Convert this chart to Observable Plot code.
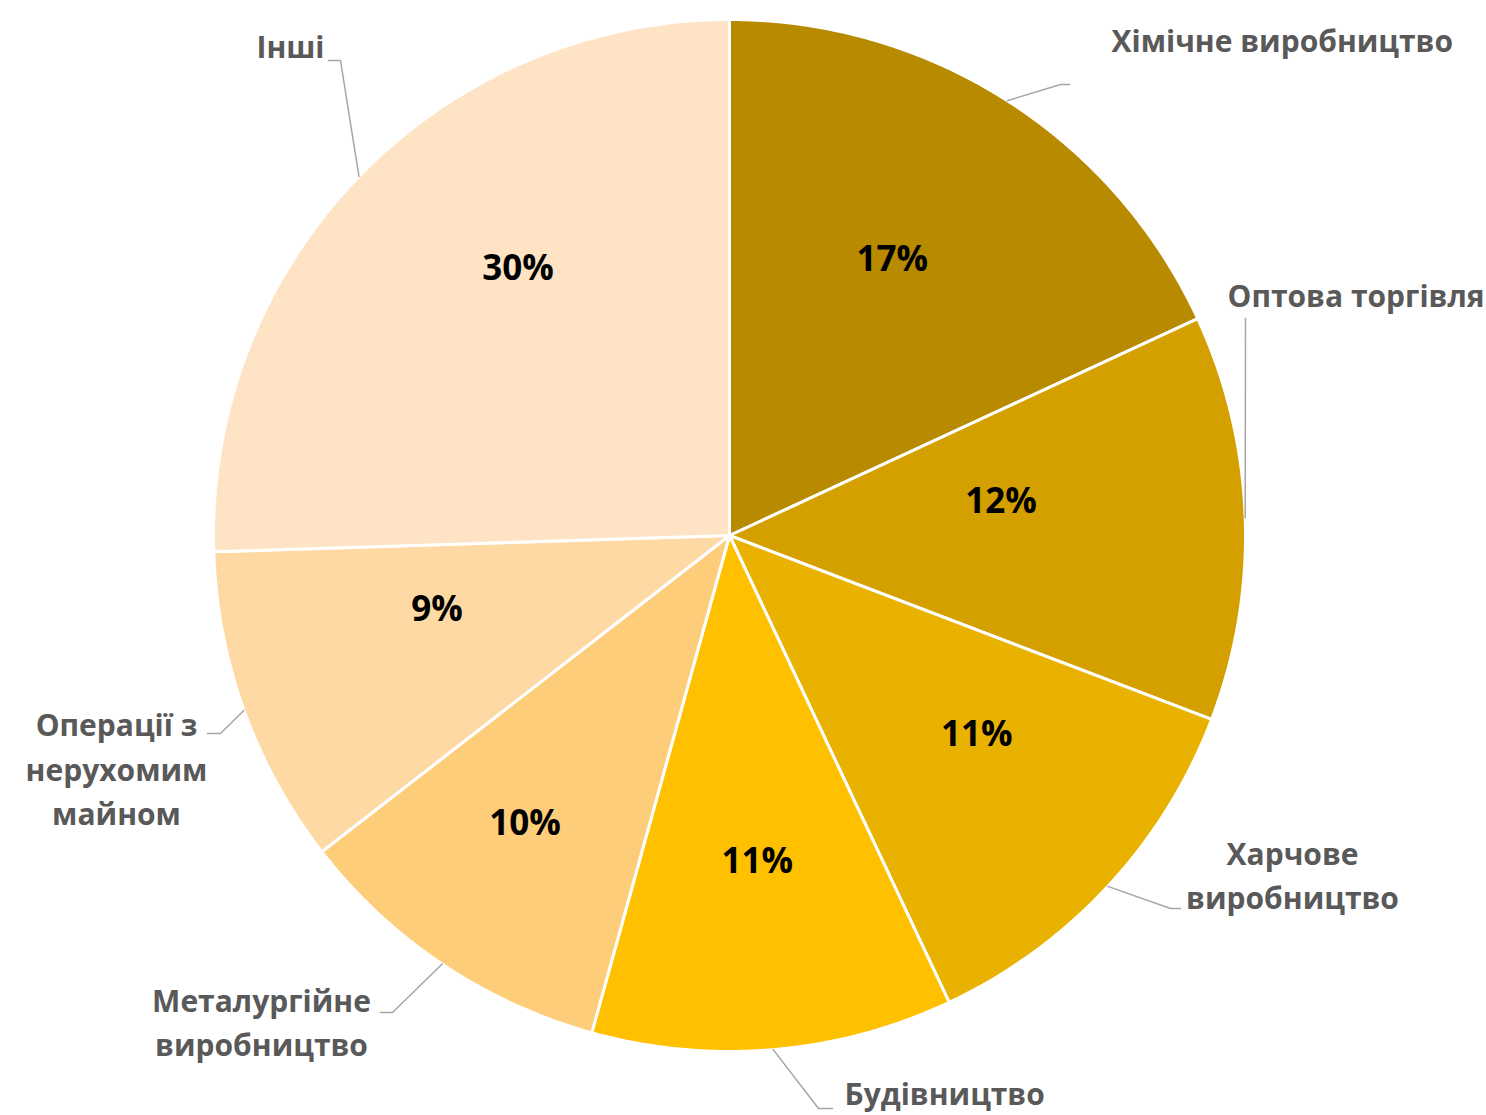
<!DOCTYPE html>
<html>
<head>
<meta charset="utf-8">
<script src="https://cdn.jsdelivr.net/npm/d3@7"></script>
<script src="https://cdn.jsdelivr.net/npm/@observablehq/plot@0.6"></script>
<style>
  html, body { margin: 0; padding: 0; background: #ffffff; }
  #chart { width: 1486px; height: 1115px; }
</style>
</head>
<body>
<div id="chart"></div>
<script>
// ---------------- DATA ----------------
const categories = [
  "Хімічне виробництво",
  "Оптова торгівля",
  "Харчове виробництво",
  "Будівництво",
  "Металургійне виробництво",
  "Операції з нерухомим майном",
  "Інші"
];
// slice shares as drawn in the picture (angular size, % of circle)
const sliceShares = [18.1, 12.7, 12.2, 11.3, 10.2, 10.0, 25.5];
// percentage labels as printed on the slices
const pctLabels = ["17%", "12%", "11%", "11%", "10%", "9%", "30%"];

// ---------------- STYLE / LAYOUT ----------------
const W = 1486, H = 1115;
const CX = 729, CY = 535, R = 516;           // pie centre and radius, px
const sliceColors = ["#B78A00", "#D4A000", "#E9B200", "#FFC000", "#FECD7A", "#FED9A3", "#FEE4C4"];
const wrapped = {
  "Харчове виробництво": "Харчове\nвиробництво",
  "Металургійне виробництво": "Металургійне\nвиробництво",
  "Операції з нерухомим майном": "Операції з\nнерухомим\nмайном"
};
// percent label placement: [radius factor, angle shift in degrees]
const pctPlace = [[0.62, -2], [0.53, -5], [0.615, -4], [0.635, 0], [0.685, 1.5], [0.585, 5.5], [0.66, 7.5]];
// outside label layout (px): leader elbow, leader end, text anchor point
const outLayout = [
  {elbow: [1060, 84],  end: [1069, 84],  text: [1111, 37],  anchor: "start"},
  {elbow: [1245, 318], end: [1245, 318], text: [1227, 292], anchor: "start"},
  {elbow: [1170, 908], end: [1180, 908], text: [1292, 872], anchor: "middle"},
  {elbow: [818, 1108], end: [832, 1108], text: [844, 1090], anchor: "start"},
  {elbow: [392, 1012], end: [380, 1012], text: [261, 1019], anchor: "middle"},
  {elbow: [220, 733],  end: [207, 733],  text: [116, 766],  anchor: "middle"},
  {elbow: [340, 60],   end: [328, 60],   text: [324, 43],   anchor: "end"}
];

// px -> data units (radius = 1, y up)
const ux = px => (px - CX) / R;
const uy = py => (CY - py) / R;
const polar = (deg, r) => ({x: r * Math.sin(deg * Math.PI / 180), y: r * Math.cos(deg * Math.PI / 180)});

// ---------------- GEOMETRY FROM DATA ----------------
const total = d3.sum(sliceShares);
let acc = 0;
const slices = categories.map((name, i) => {
  const a0 = acc / total * 360;
  acc += sliceShares[i];
  const a1 = acc / total * 360;
  return {name, i, a0, a1, mid: (a0 + a1) / 2};
});

const polyPts = [];
for (const s of slices) {
  polyPts.push({name: s.name, x: 0, y: 0});
  const n = Math.max(2, Math.ceil((s.a1 - s.a0) / 0.5));
  for (let k = 0; k <= n; k++) {
    const p = polar(s.a0 + (s.a1 - s.a0) * k / n, 1);
    polyPts.push({name: s.name, x: p.x, y: p.y});
  }
  polyPts.push({name: s.name, x: 0, y: 0});
}

const pctPts = slices.map(s => {
  const [rf, da] = pctPlace[s.i];
  const p = polar(s.mid + da, rf);
  return {label: pctLabels[s.i], x: p.x, y: p.y};
});

const leaderPts = [];
slices.forEach(s => {
  const L = outLayout[s.i];
  const e = polar(s.mid, 1);
  leaderPts.push({name: s.name, x: e.x, y: e.y});
  leaderPts.push({name: s.name, x: ux(L.elbow[0]), y: uy(L.elbow[1])});
  leaderPts.push({name: s.name, x: ux(L.end[0]), y: uy(L.end[1])});
});

const catPts = slices.map(s => {
  const L = outLayout[s.i];
  return {label: wrapped[s.name] || s.name, x: ux(L.text[0]), y: uy(L.text[1]), anchor: L.anchor};
});

const textCommon = {fontFamily: "Open Sans", fontWeight: "bold"};

const chart = Plot.plot({
  width: W,
  height: H,
  margin: 0,
  x: {domain: [ux(0), ux(W)], range: [0, W], axis: null},
  y: {domain: [uy(H), uy(0)], range: [H, 0], axis: null},
  color: {domain: categories, range: sliceColors},
  style: {background: "#ffffff", fontFamily: "Open Sans"},
  marks: [
    Plot.line(polyPts, {x: "x", y: "y", z: "name", fill: "name", stroke: "#ffffff", strokeWidth: 3, strokeLinejoin: "round"}),
    Plot.line(leaderPts, {x: "x", y: "y", z: "name", stroke: "#A6A6A6", strokeWidth: 1.5}),
    Plot.text(pctPts, {x: "x", y: "y", text: "label", fill: "#000000", fontSize: 35, ...textCommon}),
    ...["start", "middle", "end"].map(a =>
      Plot.text(catPts.filter(d => d.anchor === a), {
        x: "x", y: "y", text: "label", textAnchor: a, lineAnchor: "middle",
        lineHeight: 1.48, fill: "#595959", fontSize: 30, ...textCommon
      })
    )
  ]
});
document.getElementById("chart").appendChild(chart);
</script>
</body>
</html>
